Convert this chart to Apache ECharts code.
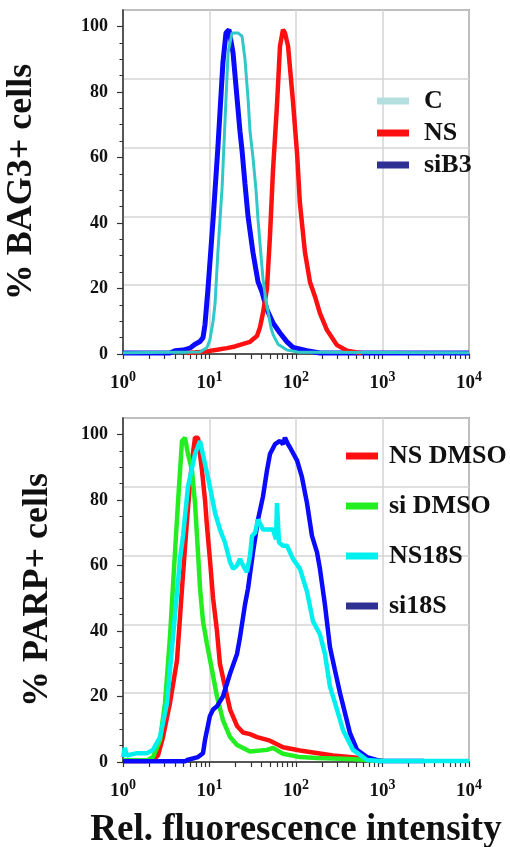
<!DOCTYPE html>
<html>
<head>
<meta charset="utf-8">
<script src="https://cdn.jsdelivr.net/npm/echarts@6/dist/echarts.min.js"></script>
<style>html,body{margin:0;padding:0;background:#fff}#c{width:510px;height:847px}</style>
</head>
<body>
<div id="c"></div>
<script>
// ---- Data (x = relative fluorescence intensity, y = % cells) ----
const topC_x = [1, 7.77, 9.35, 10.1, 11.0, 11.6, 12.5, 14.0, 15.1, 16.4, 18.2, 21.3, 23.8, 25.7, 27.9, 29.4, 31.8, 34.5, 36.4, 39.4, 41.5, 45.0, 47.5, 51.4, 54.2, 61.9, 78.7, 111, 10000];
const topC_y = [0.4, 0.6, 2, 4.3, 10, 15.5, 31, 51, 71, 92, 98, 98, 97, 90, 78, 68, 60, 50, 41, 30, 23, 16, 13, 8, 6, 3, 1.2, 0.5, 0.4];

const topNS_x = [5.5, 9.35, 12.2, 15.9, 19.7, 22.5, 29.4, 31.8, 35.4, 38.4, 41.5, 46.2, 50.0, 54.2, 60.3, 65.3, 70.7, 74.6, 80.9, 92.3, 103, 111, 127, 145, 166, 189, 228, 298, 389, 508, 580];
const topNS_y = [0.3, 0.8, 1.3, 1.8, 2.3, 2.8, 3.7, 4.5, 5.5, 8.2, 12.5, 20, 36, 56, 76, 94, 99, 98, 94, 77, 61, 46, 31, 22, 17.5, 12.5, 7.3, 2.7, 1, 0.5, 0.3];

const topSi_x = [1, 3.49, 3.99, 4.94, 5.95, 6.80, 7.77, 8.41, 8.87, 9.61, 11.0, 12.5, 14.3, 15.5, 16.8, 18.7, 20.2, 22.5, 23.8, 25.7, 27.9, 31.8, 36.4, 40.4, 46.2, 54.2, 65.3, 78.7, 92.3, 134, 189, 10000];
const topSi_y = [0.3, 0.3, 1, 1.2, 1.8, 3, 3.8, 5, 9, 20, 41, 63, 89, 98, 99, 92, 82, 68, 62, 52, 42, 31, 22, 19, 13.5, 9.5, 6.4, 3.7, 2, 1, 0.3, 0.3];

const botNSD_x = [1, 1.89, 2.22, 2.54, 2.90, 3.49, 4.21, 4.81, 5.50, 6.28, 6.80, 7.36, 8.19, 8.87, 9.35, 10.1, 11.0, 12.2, 13.2, 15.1, 17.3, 20.8, 24.4, 29.4, 35.4, 50.0, 70.7, 111, 268, 549, 1013];
const botNSD_y = [0.3, 0.3, 0.6, 2, 7.6, 18, 31, 53, 74, 92, 99, 99, 89, 80, 72, 62, 50, 40, 30, 23, 16, 11, 9, 8.5, 7.6, 6.5, 4.5, 3.5, 2, 1.2, 0.3];

const botSiD_x = [1, 1.89, 2.22, 2.68, 3.06, 3.49, 3.99, 4.32, 4.81, 5.21, 5.64, 6.28, 6.80, 7.36, 7.77, 8.41, 9.35, 10.7, 12.2, 14.3, 17.3, 20.8, 29.4, 46.2, 54.2, 70.7, 111, 175, 421, 1013];
const botSiD_y = [0.5, 0.5, 1.5, 6.7, 18, 38, 64, 79, 98, 99, 94, 89, 79, 64, 53, 43, 36, 28, 20, 12.8, 7.6, 5.2, 3.2, 3.7, 4.3, 2.5, 1.5, 1.2, 0.9, 0.3];

const botNS18_x = [1, 1.05, 1.11, 1.45, 1.89, 2.22, 2.68, 3.23, 3.78, 4.56, 4.94, 5.64, 6.80, 7.77, 8.87, 10.1, 11.6, 13.2, 15.1, 17.3, 18.7, 20.8, 22.5, 24.4, 27.1, 29.4, 31.0, 33.6, 36.4, 41.5, 47.5, 54.2, 58.7, 60.3, 63.6, 70.7, 78.7, 92.3, 111, 134, 157, 189, 216, 247, 298, 349, 456, 662, 935, 10000];
const botNS18_y = [1.5, 4.3, 2, 2.7, 2.7, 3.7, 7.6, 18, 38, 62, 69, 84, 94, 98, 91, 84, 76, 71, 67, 61, 59, 60, 62, 60, 58, 63, 69, 70, 74, 71, 71, 71, 68, 79, 67, 66, 66, 62, 59, 52, 43, 39, 33, 23, 16, 9.8, 3.7, 0.6, 0.3, 0.3];

const botSi18_x = [1, 5.21, 5.50, 7.36, 8.41, 8.87, 10.1, 11.0, 12.2, 14.3, 17.3, 20.8, 22.5, 25.7, 27.9, 31.8, 36.4, 41.5, 46.2, 50.0, 57.2, 65.3, 70.7, 74.6, 80.9, 85.3, 103, 117, 134, 153, 175, 189, 216, 247, 282, 323, 368, 421, 508, 662, 935, 3000];
const botSi18_y = [0.2, 0.2, 0.6, 1.5, 2.7, 6.7, 14, 16, 17, 20, 27, 33, 38, 48, 53, 64, 74, 81, 89, 94, 97, 98, 97, 99, 97, 96, 92, 87, 79, 69, 64, 59, 48, 35, 28, 21, 15, 8.8, 3.7, 1.5, 0.3, 0.3];

// ---- Tick values ----
const yMajorTicks = [0, 20, 40, 60, 80, 100];
const yMinorTicks = [0, 5, 10, 15, 20, 25, 30, 35, 40, 45, 50, 55, 60, 65, 70, 75, 80, 85, 90, 95, 100];
const xMinorTicks = [2, 3, 4, 5, 6, 7, 8, 9, 20, 30, 40, 50, 60, 70, 80, 90, 200, 300, 400, 500, 600, 700, 800, 900, 2000, 3000, 4000, 5000, 6000, 7000, 8000, 9000];

const zip = (xs, ys) => xs.map((x, i) => [x, ys[i]]);
const FONT = "'Liberation Serif','Times New Roman',serif";

const grids = [
  {left: 123, top: 10, width: 346, height: 344},
  {left: 123, top: 418, width: 346, height: 344}
];

function xAxes(gi, withName) {
  return [{
    type: 'log', gridIndex: gi, min: 1, max: 10000, logBase: 10, position: 'bottom', offset: 0,
    axisLine: {show: true, lineStyle: {color: '#333', width: 1.5}},
    axisTick: {show: true, length: 5, lineStyle: {color: '#333', width: 1.2}},
    splitLine: {show: true, lineStyle: {color: '#d4d4d4', width: 1.5}},
    axisLabel: {
      margin: 16, color: '#111',
      formatter: v => '{b|10}{s|' + Math.round(Math.log10(v)) + '}',
      rich: {
        b: {fontFamily: FONT, fontWeight: 'bold', fontSize: 19, color: '#111'},
        s: {fontFamily: FONT, fontWeight: 'bold', fontSize: 14, color: '#111', padding: [0, 0, 12, 0]}
      }
    },
    name: withName ? 'Rel. fluorescence intensity' : '',
    nameLocation: 'middle', nameGap: 50,
    nameTextStyle: {fontFamily: FONT, fontWeight: 'bold', fontSize: 37, color: '#111'}
  }, {
    type: 'log', gridIndex: gi, min: 1, max: 10000, logBase: 10, position: 'bottom', offset: 0,
    axisLine: {show: false},
    axisTick: {show: true, length: 5, customValues: xMinorTicks, lineStyle: {color: '#333', width: 1.2}},
    axisLabel: {show: false},
    splitLine: {show: false}
  }];
}

function yAxes(gi, name, gap) {
  return [{
    type: 'value', gridIndex: gi, min: 0, max: 105, interval: 21, position: 'left', offset: 0,
    axisLine: {show: false}, axisTick: {show: false}, axisLabel: {show: false},
    splitLine: {show: true, lineStyle: {color: '#d4d4d4', width: 1.5}}
  }, {
    type: 'value', gridIndex: gi, min: 0, max: 105, position: 'left', offset: 0,
    axisLine: {show: true, lineStyle: {color: '#333', width: 1.5}},
    axisTick: {show: true, length: 6, customValues: yMajorTicks, lineStyle: {color: '#333', width: 1.2}},
    axisLabel: {customValues: yMajorTicks, margin: 15, fontFamily: FONT, fontWeight: 'bold', fontSize: 18, color: '#111'},
    splitLine: {show: false},
    name: name, nameLocation: 'middle', nameRotate: 90, nameGap: gap,
    nameTextStyle: {fontFamily: FONT, fontWeight: 'bold', fontSize: 36, color: '#111'}
  }, {
    type: 'value', gridIndex: gi, min: 0, max: 105, position: 'left', offset: 0,
    axisLine: {show: false},
    axisTick: {show: true, length: 3.5, customValues: yMinorTicks, lineStyle: {color: '#333', width: 1}},
    axisLabel: {show: false}, splitLine: {show: false}
  }];
}

function line(name, xi, yi, xs, ys, color, width, z) {
  return {
    name: name, type: 'line', xAxisIndex: xi, yAxisIndex: yi,
    data: zip(xs, ys), showSymbol: false, symbol: 'none', animation: false,
    lineStyle: {color: color, width: width}, itemStyle: {color: color}, z: z
  };
}

const chart = echarts.init(document.getElementById('c'), null, {renderer: 'canvas'});
chart.setOption({
  backgroundColor: '#fff',
  animation: false,
  grid: grids.map(g => Object.assign({show: true, borderColor: '#555', borderWidth: 1.5, backgroundColor: 'transparent', containLabel: false, outerBoundsMode: 'none'}, g)),
  xAxis: [...xAxes(0, false), ...xAxes(1, true)],
  yAxis: [...yAxes(0, '% BAG3+ cells', 83), ...yAxes(1, '% PARP+ cells', 67)],
  legend: [{
    orient: 'vertical', left: 372, top: 83, icon: 'rect', itemWidth: 32, itemHeight: 7, itemGap: 6,
    textStyle: {fontFamily: FONT, fontWeight: 'bold', fontSize: 26, lineHeight: 26, color: '#111', padding: [0, 0, 0, 10]},
    data: [
      {name: 'C', itemStyle: {color: '#b4dfdf'}},
      {name: 'NS', itemStyle: {color: '#ff1010'}},
      {name: 'siB3', itemStyle: {color: '#2e3192'}}
    ]
  }, {
    orient: 'vertical', left: 341, top: 438, icon: 'rect', itemWidth: 32, itemHeight: 7, itemGap: 24,
    textStyle: {fontFamily: FONT, fontWeight: 'bold', fontSize: 26, lineHeight: 26, color: '#111', padding: [0, 0, 0, 6]},
    data: [
      {name: 'NS DMSO', itemStyle: {color: '#ff1010'}},
      {name: 'si DMSO', itemStyle: {color: '#22ee22'}},
      {name: 'NS18S', itemStyle: {color: '#00f0f0'}},
      {name: 'si18S', itemStyle: {color: '#2e3192'}}
    ]
  }],
  series: [
    line('siB3', 0, 0, topSi_x, topSi_y, '#0a0aff', 5, 2),
    line('NS', 0, 0, topNS_x, topNS_y, '#ff1010', 4.5, 3),
    line('C', 0, 0, topC_x, topC_y, '#30c8c8', 3, 4),
    line('NS DMSO', 2, 3, botNSD_x, botNSD_y, '#ff1010', 4.5, 2),
    line('si DMSO', 2, 3, botSiD_x, botSiD_y, '#22ee22', 4.5, 3),
    line('si18S', 2, 3, botSi18_x, botSi18_y, '#0a0aff', 4.5, 4),
    line('NS18S', 2, 3, botNS18_x, botNS18_y, '#00f0f0', 4.5, 5)
  ]
});
</script>
</body>
</html>
